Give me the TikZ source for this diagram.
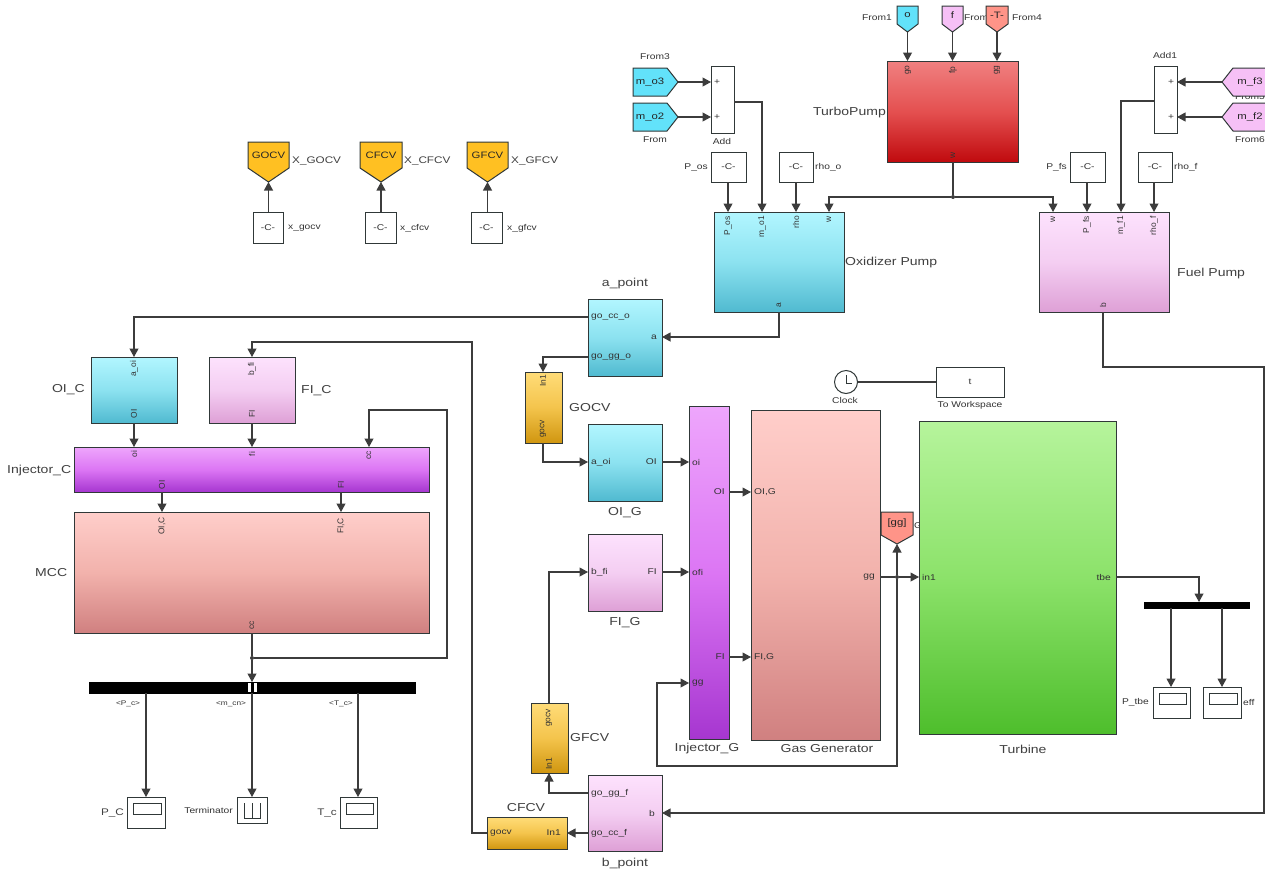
\documentclass[tikz,border=0pt]{standalone}
\usepackage{fontspec}
\setmainfont[FakeStretch=1.22]{Liberation Sans}
\newfontfamily\plainf{Liberation Sans}
\usetikzlibrary{arrows.meta}
\definecolor{linec}{HTML}{3C3C3C}
\definecolor{edgec}{HTML}{303838}
\definecolor{gotoY}{HTML}{FFC022}
\definecolor{fromC}{HTML}{62E2FA}
\definecolor{fromP}{HTML}{F6C0F6}
\definecolor{fromR}{HTML}{FF9488}
\newcount\lblcnt
% generic text label with an automatic name
\newcommand{\tx}[3][]{\global\advance\lblcnt by 1 \node[plabel,#1] (t\the\lblcnt) at (#2) {#3};}
% rectangular block: style, name, x0, y0, x1, y1
\newcommand{\blk}[6][plain]{%
  \pgfmathsetmacro\bw{#5-#3}\pgfmathsetmacro\bh{#6-#4}%
  \pgfmathsetmacro\bx{(#3+#5)/2}\pgfmathsetmacro\by{(#4+#6)/2}%
  \node[block,#1,minimum width=\bw pt,minimum height=\bh pt] (#2) at (\bx,\by) {};}
% flag pointing down: name, x0, x1, y0, notch y, tip y, colour, text
\newcommand{\flagdown}[8]{%
  \pgfmathsetmacro\fm{(#2+#3)/2}%
  \draw[flagline,fill=#7] (#2,#4) -- (#3,#4) -- (#3,#5) -- (\fm,#6) -- (#2,#5) -- cycle;
  \coordinate (#1) at (\fm,#6);
  \coordinate (#1-top) at (\fm,#4);
  \pgfmathsetmacro\fy{#4+(#5-#4)*0.5}%
  \node[flagtext] (#1-txt) at (\fm,\fy) {#8};}
% flag pointing sideways: name, base x, notch x, tip x, y0, y1, colour, text
\newcommand{\flagside}[8]{%
  \pgfmathsetmacro\fm{(#5+#6)/2}%
  \draw[flagline,fill=#7] (#2,#5) -- (#3,#5) -- (#4,\fm) -- (#3,#6) -- (#2,#6) -- cycle;
  \coordinate (#1) at (#4,\fm);
  \pgfmathsetmacro\fx{(#2+#3)/2}%
  \node[flagtext] (#1-txt) at (\fx,\fm) {#8};}
\newcommand{\scopeblk}[5]{% name x0 y0 x1 y1
  \blk{#1}{#2}{#3}{#4}{#5}
  \pgfmathsetmacro\sa{#2+6}\pgfmathsetmacro\sb{#4-4}\pgfmathsetmacro\sc{#3+6}\pgfmathsetmacro\sd{#3+17}%
  \draw[line width=.9pt,draw=edgec] (\sa,\sc) rectangle (\sb,\sd);}
\tikzset{
  x=1pt,y=-1pt,
  block/.style={draw=edgec,line width=1pt,inner sep=0pt,outer sep=0pt,rectangle},
  plain/.style={fill=white},
  cyanb/.style={top color={rgb,255:red,178;green,246;blue,255},bottom color={rgb,255:red,80;green,186;blue,208},middle color={rgb,255:red,140;green,226;blue,240}},
  pinkb/.style={top color={rgb,255:red,253;green,226;blue,253},bottom color={rgb,255:red,222;green,160;blue,214},middle color={rgb,255:red,244;green,206;blue,242}},
  salmonb/.style={top color={rgb,255:red,255;green,206;blue,202},bottom color={rgb,255:red,208;green,128;blue,128},middle color={rgb,255:red,242;green,178;blue,172}},
  purpleb/.style={top color={rgb,255:red,238;green,166;blue,252},bottom color={rgb,255:red,166;green,54;blue,208},middle color={rgb,255:red,220;green,118;blue,244}},
  goldb/.style={top color={rgb,255:red,255;green,220;blue,120},bottom color={rgb,255:red,208;green,150;blue,16},middle color={rgb,255:red,244;green,196;blue,76}},
  redb/.style={top color={rgb,255:red,240;green,128;blue,128},bottom color={rgb,255:red,192;green,10;blue,14},middle color={rgb,255:red,228;green,80;blue,80}},
  greenb/.style={top color={rgb,255:red,182;green,244;blue,156},bottom color={rgb,255:red,78;green,190;blue,44},middle color={rgb,255:red,140;green,226;blue,106}},
  busb/.style={fill=black,draw=black},
  flagline/.style={draw=edgec,line width=1pt},
  flagtext/.style={font=\fontsize{9.3}{10}\selectfont,inner sep=0pt,text=black!85},
  plabel/.style={font=\fontsize{8.4}{9}\selectfont,inner sep=0pt,text=black!80},
  midl/.style={font=\fontsize{9.6}{10}\selectfont,text=black!75},
  big/.style={font=\fontsize{11.5}{12}\selectfont,text=black!75},
  port/.style={font=\fontsize{8.4}{9}\selectfont,inner sep=0pt,text=black!80},
  vport/.style={font=\plainf\fontsize{8.4}{9}\selectfont,inner sep=0pt,rotate=90,text=black!80},
  tiny/.style={font=\fontsize{6.8}{7}\selectfont,inner sep=0pt,text=black!80},
  wire/.style={draw=linec,line width=1.05pt},
  conn/.style={wire,-{Triangle[length=8.5pt,width=9pt]}},
  jdot/.style={circle,fill=linec,inner sep=0pt,minimum size=4pt},
}
\begin{document}
\begin{tikzpicture}
\useasboundingbox (0,0) rectangle (1265,873);
\fill[white] (0,0) rectangle (1265,873);
\clip (0,0) rectangle (1265,873);

% ---- actuator commands (top left)
\flagdown{xgocv}{248}{289}{142}{168}{182}{gotoY}{GOCV}
\flagdown{xcfcv}{360}{402}{142}{168}{182}{gotoY}{CFCV}
\flagdown{xgfcv}{467}{508}{142}{168}{182}{gotoY}{GFCV}
\blk{cgocv}{253}{212}{283}{243}
\blk{ccfcv}{365}{212}{396}{243}
\blk{cgfcv}{471}{212}{502}{243}
\node[plabel] (cgocvt) at (cgocv) {-C-};
\node[plabel] (ccfcvt) at (ccfcv) {-C-};
\node[plabel] (cgfcvt) at (cgfcv) {-C-};
\tx[midl,anchor=west]{292,161}{X\_GOCV}
\tx[midl,anchor=west]{404,161}{X\_CFCV}
\tx[midl,anchor=west]{511,161}{X\_GFCV}
\tx[anchor=west]{288,228}{x\_gocv}
\tx[anchor=west]{400,228}{x\_cfcv}
\tx[anchor=west]{507,228}{x\_gfcv}
\draw[conn] (xgocv |- cgocv.north) -- (xgocv);
\draw[conn] (xcfcv |- ccfcv.north) -- (xcfcv);
\draw[conn] (xgfcv |- cgfcv.north) -- (xgfcv);

% ---- turbopump
\tx[anchor=west]{964,18}{From}
\flagdown{fo}{897}{918}{6}{24}{32}{fromC}{o}
\flagdown{ff}{942}{963}{6}{24}{32}{fromP}{f}
\flagdown{fT}{986}{1008}{6}{24}{32}{fromR}{-T-}
\tx[anchor=east]{892,18}{From1}
\tx[anchor=west]{1012,18}{From4}
\blk[redb]{tp}{887}{61}{1018}{162}
\coordinate (tp-o) at (907.5,61);
\coordinate (tp-f) at (952.5,61);
\coordinate (tp-t) at (997,61);
\draw[conn] (fo) -- (tp-o);
\draw[conn] (ff) -- (tp-f);
\draw[conn] (fT) -- (tp-t);
\node[vport] (tpa) at (908,70) {go};
\node[vport] (tpb) at (953,70) {fp};
\node[vport] (tpc) at (997,70) {gg};
\node[vport] (tpw) at (953,155) {w};
\tx[big,anchor=east]{886,113}{TurboPump}

% ---- oxidizer side
\flagside{fmo3}{633}{667}{678}{68}{96}{fromC}{m\_o3}
\flagside{fmo2}{633}{667}{678}{103}{131}{fromC}{m\_o2}
\tx{655,57}{From3}
\tx{655,140}{From}
\blk{add}{711}{66}{734}{133}
\coordinate (add-a) at (711,82);
\coordinate (add-b) at (711,117);
\coordinate (add-o) at (734,102);
\node[port] (addp1) at (717,82) {+};
\node[port] (addp2) at (717,117) {+};
\tx{722,141}{Add}
\draw[conn] (fmo3) -- (add-a);
\draw[conn] (fmo2) -- (add-b);
\blk[cyanb]{oxp}{714}{212}{844}{312}
\coordinate (ox-pos) at (728,212);
\coordinate (ox-mo) at (762,212);
\coordinate (ox-rho) at (796,212);
\coordinate (ox-w) at (829,212);
\coordinate (ox-a) at (779,312);
\blk{cpos}{711}{152}{746}{182}
\blk{crhoo}{779}{152}{813}{182}
\node[plabel] (cposT) at (cpos) {-C-};
\node[plabel] (crhooT) at (crhoo) {-C-};
\tx[anchor=east]{708,167}{P\_os}
\tx[anchor=west]{815,167}{rho\_o}
\draw[conn] (cpos.south -| ox-pos) -- (ox-pos);
\draw[conn] (crhoo.south -| ox-rho) -- (ox-rho);
\draw[conn] (add-o) -| (ox-mo);
\node[vport,anchor=east] (oxl1) at (728,216) {P\_os};
\node[vport,anchor=east] (oxl2) at (762,216) {m\_o1};
\node[vport,anchor=east] (oxl3) at (796,216) {rho};
\node[vport,anchor=east] (oxl4) at (829,216) {w};
\node[vport] (oxl5) at (779,305) {a};
\tx[big,anchor=west]{845,263}{Oxidizer Pump}

% ---- fuel side
\tx{1250,97}{From5}
\flagside{fmf3}{1270}{1233}{1222}{68}{96}{fromP}{}
\flagside{fmf2}{1270}{1233}{1222}{103}{131}{fromP}{}
\node[flagtext] (fmf3t) at (1250,82) {m\_f3};
\node[flagtext] (fmf2t) at (1250,117) {m\_f2};
\tx{1250,140}{From6}
\blk{addb}{1154}{66}{1177}{133}
\coordinate (addb-a) at (1177,82);
\coordinate (addb-b) at (1177,117);
\coordinate (addb-o) at (1154,101);
\node[port] (addbp1) at (1171,82) {+};
\node[port] (addbp2) at (1171,117) {+};
\tx{1165,55}{Add1}
\draw[conn] (fmf3) -- (addb-a);
\draw[conn] (fmf2) -- (addb-b);
\blk[pinkb]{fup}{1039}{212}{1169}{312}
\coordinate (fu-w) at (1053,212);
\coordinate (fu-pfs) at (1087,212);
\coordinate (fu-mf) at (1121,212);
\coordinate (fu-rho) at (1154,212);
\coordinate (fu-b) at (1103,312);
\blk{cpfs}{1070}{152}{1105}{182}
\blk{crhof}{1138}{152}{1172}{182}
\node[plabel] (cpfsT) at (cpfs) {-C-};
\node[plabel] (crhofT) at (crhof) {-C-};
\tx[anchor=east]{1067,167}{P\_fs}
\tx[anchor=west]{1174,167}{rho\_f}
\draw[conn] (cpfs.south -| fu-pfs) -- (fu-pfs);
\draw[conn] (crhof.south -| fu-rho) -- (fu-rho);
\draw[conn] (addb-o) -| (fu-mf);
\node[vport,anchor=east] (ful1) at (1053,216) {w};
\node[vport,anchor=east] (ful2) at (1087,216) {P\_fs};
\node[vport,anchor=east] (ful3) at (1121,216) {m\_f1};
\node[vport,anchor=east] (ful4) at (1154,216) {rho\_f};
\node[vport] (ful5) at (1103,305) {b};
\tx[big,anchor=west]{1177,274}{Fuel Pump}

% shaft speed from the turbopump to both pumps
\coordinate (tp-w) at (953,162);
\node[jdot] (jw) at (953,197) {};
\draw[wire] (tp-w) -- (jw);
\draw[conn] (jw) -| (ox-w);
\draw[conn] (jw) -| (fu-w);

% ---- a_point
\blk[cyanb]{apt}{588}{299}{662}{376}
\coordinate (apt-cc) at (588,317);
\coordinate (apt-gg) at (588,357);
\coordinate (apt-a) at (662,337);
\tx[big]{625,284}{a\_point}
\node[port,anchor=west] (apl1) at (591,317) {go\_cc\_o};
\node[port,anchor=west] (apl2) at (591,357) {go\_gg\_o};
\node[port,anchor=east] (apl3) at (657,337) {a};
\draw[conn] (ox-a) |- (apt-a);

% ---- main chamber chain
\blk[cyanb]{oic}{91}{357}{177}{423}
\blk[pinkb]{fic}{209}{357}{295}{423}
\blk[purpleb]{injc}{74}{447}{429}{492}
\blk[salmonb]{mcc}{74}{512}{429}{633}
\coordinate (oic-in) at (134,357);
\coordinate (oic-out) at (134,423);
\coordinate (fic-in) at (252,357);
\coordinate (fic-out) at (252,423);
\coordinate (inj-oi) at (134,447);
\coordinate (inj-fi) at (252,447);
\coordinate (inj-cc) at (369,447);
\coordinate (inj-o1) at (162,492);
\coordinate (inj-o2) at (341,492);
\coordinate (mcc-i1) at (162,512);
\coordinate (mcc-i2) at (341,512);
\coordinate (mcc-o) at (252,633);
\coordinate (c1) at (134,317);
\coordinate (c2) at (252,342);
\coordinate (c3) at (472,342);
\coordinate (c4) at (472,833);
\coordinate (c5) at (369,410);
\coordinate (c6) at (447,410);
\coordinate (c7) at (447,658);
\draw[conn] (apt-cc) -- (c1) -- (oic-in);
\draw[conn] (oic-out) -- (inj-oi);
\draw[conn] (fic-out) -- (inj-fi);
\draw[conn] (inj-o1) -- (mcc-i1);
\draw[conn] (inj-o2) -- (mcc-i2);
\node[vport] (oc1) at (134,369) {a\_oi};
\node[vport] (oc2) at (134,414) {OI};
\node[vport] (fc1) at (252,369) {b\_fi};
\node[vport] (fc2) at (252,414) {FI};
\node[vport] (ic1) at (134,454) {oi};
\node[vport] (ic2) at (252,454) {fi};
\node[vport] (ic3) at (369,455) {cc};
\node[vport] (ic4) at (162,485) {OI};
\node[vport] (ic5) at (341,485) {FI};
\node[vport] (mc1) at (162,526) {OI,C};
\node[vport] (mc2) at (341,526) {FI,C};
\node[vport] (mc3) at (252,625) {cc};
\tx[big,anchor=east]{85,390}{OI\_C}
\tx[big,anchor=west]{301,391}{FI\_C}
\tx[big,anchor=west]{7,471}{Injector\_C}
\tx[big,anchor=west]{35,573}{MCC}

% bus and scopes
\blk[busb]{busc}{89}{682}{415}{693}
\fill[white] (248,683) rectangle (251,692);
\fill[white] (254,683) rectangle (256.5,692);
\coordinate (bus-in) at (252,682);
\coordinate (bus-p) at (146,693);
\coordinate (bus-m) at (252,693);
\coordinate (bus-t) at (358,693);
\node[jdot] (jc) at (252,658) {};
\draw[wire] (mcc-o) -- (jc);
\draw[conn] (jc) -- (bus-in);
\draw[conn] (jc) -- (c7) -- (c6) -- (c5) -- (inj-cc);
\scopeblk{scp}{127}{797}{165}{828}
\scopeblk{sct}{340}{797}{377}{828}
\blk{term}{237}{797}{267}{823}
\draw[line width=.9pt,draw=edgec] (244,803) -- (244,818) -- (260,818) -- (260,803) (252,803) -- (252,818);
\coordinate (scp-in) at (146,797);
\coordinate (sct-in) at (358,797);
\coordinate (term-in) at (252,797);
\draw[conn] (bus-p) -- (scp-in);
\draw[conn] (bus-m) -- (term-in);
\draw[conn] (bus-t) -- (sct-in);
\tx[tiny]{128,704}{<P\_c>}
\tx[tiny]{231,704}{<m\_cn>}
\tx[tiny]{341,704}{<T\_c>}
\tx[midl,anchor=east]{124,813}{P\_C}
\tx[anchor=east]{233,810}{Terminator}
\tx[midl,anchor=east]{337,813}{T\_c}

% ---- gas generator chain
\blk[goldb]{gocv}{525}{372}{562}{443}
\coordinate (gocv-in) at (543,372);
\coordinate (gocv-out) at (543,443);
\node[vport] (gv1) at (543,381) {In1};
\node[vport] (gv2) at (543,429) {gocv};
\tx[big,anchor=west]{569,408}{GOCV}
\draw[conn] (apt-gg) -| (gocv-in);
\blk[cyanb]{oig}{588}{424}{662}{501}
\coordinate (oig-in) at (588,462);
\coordinate (oig-out) at (662,462);
\node[port,anchor=west] (og1) at (591,462) {a\_oi};
\node[port,anchor=east] (og2) at (657,462) {OI};
\tx[big]{625,513}{OI\_G}
\draw[conn] (gocv-out) |- (oig-in);
\blk[pinkb]{fig}{588}{534}{662}{611}
\coordinate (fig-in) at (588,572);
\coordinate (fig-out) at (662,572);
\node[port,anchor=west] (fg1) at (591,572) {b\_fi};
\node[port,anchor=east] (fg2) at (657,572) {FI};
\tx[big]{625,623}{FI\_G}
\blk[purpleb]{injg}{689}{406}{729}{739}
\coordinate (ig-oi) at (689,462);
\coordinate (ig-fi) at (689,572);
\coordinate (ig-gg) at (689,683);
\coordinate (ig-o1) at (729,492);
\coordinate (ig-o2) at (729,657);
\node[port,anchor=west] (ig1) at (692,462) {oi};
\node[port,anchor=west] (ig2) at (692,572) {ofi};
\node[port,anchor=west] (ig3) at (692,683) {gg};
\node[port,anchor=east] (ig4) at (725,492) {OI};
\node[port,anchor=east] (ig5) at (725,657) {FI};
\tx[big]{707,749}{Injector\_G}
\draw[conn] (oig-out) -- (ig-oi);
\draw[conn] (fig-out) -- (ig-fi);
\blk[salmonb]{gg}{751}{410}{880}{740}
\coordinate (gg-oi) at (751,492);
\coordinate (gg-fi) at (751,657);
\coordinate (gg-o) at (880,577);
\node[port,anchor=west] (gg1) at (754,492) {OI,G};
\node[port,anchor=west] (gg2) at (754,657) {FI,G};
\node[port,anchor=east] (gg3) at (875,577) {gg};
\tx[big]{827,749}{Gas Generator}
\draw[conn] (ig-o1) -- (gg-oi);
\draw[conn] (ig-o2) -- (gg-fi);

\tx[anchor=west]{914,526}{Goto}
\flagdown{gotogg}{881}{913}{512}{535}{544}{fromR}{[gg]}
\blk[greenb]{tur}{919}{421}{1116}{734}
\coordinate (tur-in) at (919,577);
\coordinate (tur-o) at (1116,577);
\node[port,anchor=west] (tr1) at (922,577) {in1};
\node[port,anchor=east] (tr2) at (1111,577) {tbe};
\tx[big]{1023,749}{Turbine}
\node[jdot] (jg) at (897,577) {};
\coordinate (g1) at (897,766);
\coordinate (g2) at (657,766);
\coordinate (g3) at (657,683);
\draw[wire] (gg-o) -- (jg);
\draw[conn] (jg) -- (tur-in);
\draw[conn] (jg) -- (gotogg);
\draw[conn] (jg) -- (g1) -- (g2) -- (g3) -- (ig-gg);

% clock
\node[circle,draw=edgec,line width=1pt,fill=white,minimum size=23pt,inner sep=0pt] (clk) at (846,382) {};
\draw[line width=.8pt,draw=edgec] (846,375) -- (846,383) -- (852,383);
\tx{845,400}{Clock}
\blk{tow}{936}{367}{1004}{397}
\node[plabel] (towt) at (tow) {t};
\tx{970,405}{To Workspace}
\draw[wire] (clk) -- (tow);

% turbine outputs
\blk[busb]{bust}{1144}{602}{1249}{608}
\coordinate (bust-in) at (1199,602);
\coordinate (bust-p) at (1171,608);
\coordinate (bust-e) at (1222,608);
\draw[conn] (tur-o) -| (bust-in);
\scopeblk{sptb}{1153}{687}{1190}{718}
\scopeblk{seff}{1203}{687}{1241}{718}
\coordinate (sptb-in) at (1171,687);
\coordinate (seff-in) at (1222,687);
\draw[conn] (bust-p) -- (sptb-in);
\draw[conn] (bust-e) -- (seff-in);
\tx[anchor=east]{1149,702}{P\_tbe}
\tx[anchor=west]{1243,702}{eff}

% ---- fuel feed
\blk[goldb]{gfcv}{531}{703}{568}{773}
\coordinate (gfcv-o) at (549,703);
\coordinate (gfcv-i) at (549,773);
\node[vport] (gf1) at (549,718) {gocv};
\node[vport] (gf2) at (549,764) {In1};
\tx[big,anchor=west]{570,738}{GFCV}
\blk[pinkb]{bpt}{588}{775}{662}{851}
\coordinate (bpt-gg) at (588,793);
\coordinate (bpt-cc) at (588,833);
\coordinate (bpt-b) at (662,813);
\node[port,anchor=west] (bp1) at (591,793) {go\_gg\_f};
\node[port,anchor=west] (bp2) at (591,833) {go\_cc\_f};
\node[port,anchor=east] (bp3) at (655,813) {b};
\tx[big]{625,864}{b\_point}
\blk[goldb]{cfcv}{487}{817}{567}{849}
\coordinate (cf-w) at (487,833);
\coordinate (cf-e) at (567,833);
\node[port,anchor=west] (cf1) at (490,833) {gocv};
\node[port,anchor=east] (cf2) at (561,833) {In1};
\tx[big]{526,808}{CFCV}
\draw[conn] (gfcv-o) |- (fig-in);
\draw[conn] (bpt-gg) -| (gfcv-i);
\draw[conn] (bpt-cc) -- (cf-e);
\draw[conn] (cf-w) -- (c4) -- (c3) -- (c2) -- (fic-in);
\coordinate (f1) at (1103,367);
\coordinate (f2) at (1264,367);
\coordinate (f3) at (1264,813);
\draw[conn] (fu-b) -- (f1) -- (f2) -- (f3) -- (bpt-b);
\end{tikzpicture}
\end{document}
